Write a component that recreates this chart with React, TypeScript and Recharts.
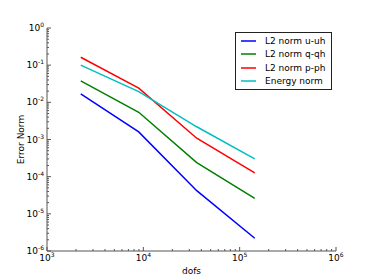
import React from 'react';
import { LineChart, Line, XAxis, YAxis, Legend } from 'recharts';

// refinement levels (degrees of freedom)
const dofs = [2240, 8960, 35840, 143360];
// error values
const l2U = [0.017, 0.0016, 4.2e-5, 2.2e-6];
const l2Q = [0.038, 0.0054, 2.4e-4, 2.6e-5];
const l2P = [0.163, 0.024, 1.08e-3, 1.26e-4];
const energy = [0.1, 0.0195, 2.2e-3, 3.0e-4];

const seriesNames = ['L2 norm u-uh', 'L2 norm q-qh', 'L2 norm p-ph', 'Energy norm'];
const seriesKeys = ['u', 'q', 'p', 'e'];
const seriesColors = ['#0000ff', '#008000', '#ff0000', '#00bfbf'];

const xMajor = [1e3, 1e4, 1e5, 1e6];
const yMajor = [1e-6, 1e-5, 1e-4, 1e-3, 1e-2, 1e-1, 1e0];
const mantissas = [2, 3, 4, 5, 6, 7, 8, 9];

const withMinors = (majors: number[]) => {
  const out: number[] = [];
  majors.forEach((m, i) => {
    out.push(m);
    if (i < majors.length - 1) mantissas.forEach((k) => out.push(k * m));
  });
  return out;
};
const xTicks = withMinors(xMajor);
const yTicks = withMinors(yMajor);

const data = dofs.map((d, i) => ({ dofs: d, u: l2U[i], q: l2Q[i], p: l2P[i], e: energy[i] }));

const FONT = '"DejaVu Sans", sans-serif';
const FRAME = '#555';
const isMajor = (v: number) => Math.abs(Math.log10(v) - Math.round(Math.log10(v))) < 1e-9;

const makeTick = (side: 'bottom' | 'top' | 'left' | 'right') => (props: any) => {
  const { x, y, payload } = props;
  const v = payload.value;
  const major = isMajor(v);
  const len = major ? 4 : 2;
  const exp = Math.round(Math.log10(v));
  let line;
  if (side === 'bottom') line = <line x1={x} x2={x} y1={y} y2={y - len} stroke={FRAME} />;
  else if (side === 'top') line = <line x1={x} x2={x} y1={y} y2={y + len} stroke={FRAME} />;
  else if (side === 'left') line = <line x1={x} x2={x + len} y1={y} y2={y} stroke={FRAME} />;
  else line = <line x1={x} x2={x - len} y1={y} y2={y} stroke={FRAME} />;
  let label = null;
  if (major && side === 'bottom') {
    label = (
      <text x={x} y={y + 10} textAnchor="middle" fontSize={9} fill="#000" fontFamily={FONT}>
        10<tspan dy={-4} fontSize={6}>{exp}</tspan>
      </text>
    );
  } else if (major && side === 'left') {
    label = (
      <text x={x - 3} y={y + 3} textAnchor="end" fontSize={9} fill="#000" fontFamily={FONT}>
        10<tspan dy={-4} fontSize={6}>{exp}</tspan>
      </text>
    );
  }
  return (
    <g>
      {line}
      {label}
    </g>
  );
};

const LegendBox = () => (
  <div
    style={{
      border: '1px solid #222',
      background: '#fff',
      padding: '1px 4px 1px 5px',
      fontFamily: FONT,
      fontSize: 9,
      color: '#000',
      width: 86,
    }}
  >
    {seriesNames.map((name, i) => (
      <div key={name} style={{ display: 'flex', alignItems: 'center', height: 13.5 }}>
        <svg width={15} height={4} style={{ marginRight: 9 }}>
          <line x1={0} x2={15} y1={2} y2={2} stroke={seriesColors[i]} strokeWidth={1.5} />
        </svg>
        <span style={{ whiteSpace: 'nowrap' }}>{name}</span>
      </div>
    ))}
  </div>
);

export default function App() {
  return (
    <div style={{ position: 'absolute', left: 0, top: 0, width: 374, height: 280, background: '#fff' }}>
      <LineChart width={374} height={280} data={data} margin={{ top: 28, right: 38, bottom: 0, left: 7 }}>
        <XAxis
          xAxisId="b"
          dataKey="dofs"
          type="number"
          scale="log"
          domain={[1e3, 1e6]}
          allowDataOverflow
          ticks={xTicks}
          interval={0}
          tickSize={0}
          tickMargin={0}
          tickLine={false}
          height={29}
          axisLine={{ stroke: FRAME }}
          tick={makeTick('bottom')}
          label={{ value: 'dofs', position: 'insideBottom', offset: 6, fontSize: 9, fill: '#000', fontFamily: FONT }}
        />
        <XAxis
          xAxisId="t"
          orientation="top"
          dataKey="dofs"
          type="number"
          scale="log"
          domain={[1e3, 1e6]}
          allowDataOverflow
          ticks={xTicks}
          interval={0}
          tickSize={0}
          tickMargin={0}
          tickLine={false}
          height={0}
          axisLine={{ stroke: FRAME }}
          tick={makeTick('top')}
        />
        <YAxis
          yAxisId="l"
          type="number"
          scale="log"
          domain={[1e-6, 1]}
          allowDataOverflow
          ticks={yTicks}
          interval={0}
          tickSize={0}
          tickMargin={0}
          tickLine={false}
          width={40}
          axisLine={{ stroke: FRAME }}
          tick={makeTick('left')}
          label={{ value: 'Error Norm', angle: -90, position: 'center', dx: -6, fontSize: 9, fill: '#000', fontFamily: FONT }}
        />
        <YAxis
          yAxisId="r"
          orientation="right"
          type="number"
          scale="log"
          domain={[1e-6, 1]}
          allowDataOverflow
          ticks={yTicks}
          interval={0}
          tickSize={0}
          tickMargin={0}
          tickLine={false}
          width={0}
          axisLine={{ stroke: FRAME }}
          tick={makeTick('right')}
        />
        {seriesKeys.map((k, i) => (
          <Line
            key={k}
            xAxisId="b"
            yAxisId="l"
            dataKey={k}
            name={seriesNames[i]}
            stroke={seriesColors[i]}
            strokeWidth={1.5}
            dot={false}
            isAnimationActive={false}
          />
        ))}
        <Legend
          layout="horizontal"
          verticalAlign="middle"
          align="center"
          wrapperStyle={{ left: 235, top: 32, width: 97 }}
          content={() => <LegendBox />}
        />
      </LineChart>
    </div>
  );
}
